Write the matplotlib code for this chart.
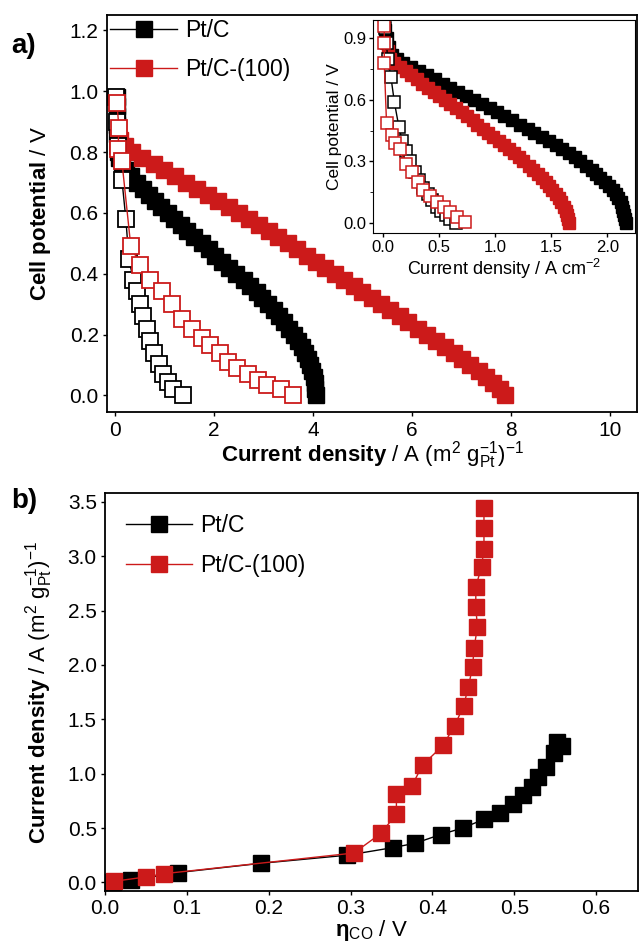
import matplotlib
matplotlib.use("Agg")
import matplotlib.pyplot as plt

plt.rcParams['font.family'] = ['Liberation Sans', 'DejaVu Sans']
plt.rcParams['mathtext.fontset'] = 'custom'
plt.rcParams['mathtext.rm'] = 'Liberation Sans'
plt.rcParams['mathtext.it'] = 'Liberation Sans:italic'
plt.rcParams['mathtext.bf'] = 'Liberation Sans:bold'

RED = '#cc1a1a'

# ---- panel a, mass-normalised current (A (m2 gPt-1)-1) ----
# Pt/C, filled (polarisation curve)
ptc_V = [0.98, 0.95, 0.92, 0.89, 0.86, 0.83, 0.80, 0.78, 0.76, 0.74, 0.72, 0.70,
         0.68, 0.66, 0.64, 0.62, 0.60, 0.58, 0.56, 0.54, 0.52, 0.50, 0.48, 0.46,
         0.44, 0.42, 0.40, 0.38, 0.36, 0.34, 0.32, 0.30, 0.28, 0.26, 0.24, 0.22,
         0.20, 0.18, 0.16, 0.14, 0.12, 0.10, 0.08, 0.06, 0.04, 0.02, 0.00]
ptc_j = [0.04, 0.04, 0.05, 0.05, 0.05, 0.06, 0.07, 0.09, 0.14, 0.22, 0.33, 0.44,
         0.56, 0.69, 0.81, 0.94, 1.07, 1.20, 1.33, 1.46, 1.60, 1.75, 1.89, 2.03,
         2.17, 2.31, 2.45, 2.60, 2.73, 2.86, 2.98, 3.10, 3.21, 3.32, 3.42, 3.52,
         3.61, 3.70, 3.78, 3.84, 3.90, 3.95, 3.99, 4.02, 4.04, 4.05, 4.06]

# Pt/C-(100), filled
p100_V = [0.88, 0.84, 0.82, 0.80, 0.78, 0.76, 0.74, 0.72, 0.70, 0.68, 0.66, 0.64,
          0.62, 0.60, 0.58, 0.56, 0.54, 0.52, 0.50, 0.48, 0.46, 0.44, 0.42, 0.40,
          0.38, 0.36, 0.34, 0.32, 0.30, 0.28, 0.26, 0.24, 0.22, 0.20, 0.18, 0.16,
          0.14, 0.12, 0.10, 0.08, 0.06, 0.04, 0.02, 0.00]
p100_j = [0.06, 0.10, 0.20, 0.35, 0.55, 0.78, 1.00, 1.22, 1.44, 1.66, 1.88, 2.08,
          2.30, 2.50, 2.70, 2.92, 3.12, 3.30, 3.50, 3.68, 3.88, 4.06, 4.25, 4.44,
          4.63, 4.82, 5.00, 5.19, 5.38, 5.56, 5.75, 5.93, 6.12, 6.30, 6.48, 6.66,
          6.84, 7.01, 7.18, 7.35, 7.50, 7.64, 7.77, 7.88]

# open symbols (second data set)
ptc_o_V = [0.98, 0.90, 0.82, 0.71, 0.58, 0.45, 0.38, 0.345, 0.30, 0.26, 0.22,
           0.18, 0.14, 0.105, 0.07, 0.045, 0.02, 0.00]
ptc_o_j = [0.03, 0.04, 0.06, 0.14, 0.22, 0.28, 0.37, 0.44, 0.51, 0.57, 0.65,
           0.71, 0.78, 0.88, 0.98, 1.08, 1.18, 1.38]
p100_o_V = [0.96, 0.88, 0.81, 0.77, 0.49, 0.43, 0.38, 0.345, 0.30, 0.25, 0.22,
            0.19, 0.165, 0.14, 0.11, 0.09, 0.07, 0.05, 0.035, 0.02, 0.00]
p100_o_j = [0.04, 0.08, 0.06, 0.14, 0.32, 0.51, 0.71, 0.95, 1.16, 1.36, 1.56,
            1.76, 1.93, 2.13, 2.29, 2.47, 2.68, 2.88, 3.08, 3.35, 3.60]

# ---- inset, geometric current (A cm-2) ----
in_ptc_V = [0.94, 0.90, 0.86, 0.82, 0.80, 0.78, 0.76, 0.74, 0.72, 0.70, 0.68, 0.66,
            0.64, 0.62, 0.60, 0.58, 0.56, 0.54, 0.52, 0.50, 0.48, 0.46, 0.44, 0.42,
            0.40, 0.38, 0.36, 0.34, 0.32, 0.30, 0.28, 0.26, 0.24, 0.22, 0.20, 0.18,
            0.16, 0.14, 0.12, 0.10, 0.08, 0.06, 0.04, 0.02, 0.00]
in_ptc_j = [0.02, 0.03, 0.05, 0.08, 0.12, 0.18, 0.25, 0.32, 0.39, 0.46, 0.53, 0.60,
            0.67, 0.74, 0.81, 0.88, 0.95, 1.02, 1.08, 1.15, 1.22, 1.29, 1.35, 1.42,
            1.48, 1.54, 1.60, 1.66, 1.71, 1.76, 1.81, 1.86, 1.90, 1.94, 1.98, 2.02,
            2.05, 2.08, 2.10, 2.12, 2.13, 2.14, 2.15, 2.16, 2.17]
in_p100_V = [0.84, 0.80, 0.78, 0.76, 0.74, 0.72, 0.70, 0.68, 0.66, 0.64, 0.62, 0.60,
             0.58, 0.56, 0.54, 0.52, 0.50, 0.48, 0.46, 0.44, 0.42, 0.40, 0.38, 0.36,
             0.34, 0.32, 0.30, 0.28, 0.26, 0.24, 0.22, 0.20, 0.18, 0.16, 0.14, 0.12,
             0.10, 0.08, 0.06, 0.04, 0.02, 0.00]
in_p100_j = [0.04, 0.06, 0.10, 0.15, 0.20, 0.25, 0.30, 0.35, 0.40, 0.45, 0.50, 0.55,
             0.60, 0.65, 0.70, 0.75, 0.80, 0.84, 0.89, 0.94, 0.98, 1.03, 1.08, 1.12,
             1.17, 1.21, 1.25, 1.30, 1.34, 1.38, 1.42, 1.45, 1.48, 1.51, 1.54, 1.57,
             1.59, 1.61, 1.63, 1.64, 1.65, 1.66]
in_ptc_o_V = [0.95, 0.88, 0.80, 0.71, 0.59, 0.47, 0.40, 0.35, 0.30, 0.25, 0.21,
              0.17, 0.14, 0.11, 0.08, 0.06, 0.04, 0.02, 0.00]
in_ptc_o_j = [0.02, 0.03, 0.04, 0.07, 0.10, 0.14, 0.17, 0.20, 0.24, 0.28, 0.32,
              0.36, 0.40, 0.44, 0.48, 0.52, 0.56, 0.60, 0.65]
in_p100_o_V = [0.96, 0.88, 0.78, 0.49, 0.43, 0.39, 0.36, 0.29, 0.25, 0.20, 0.16,
               0.13, 0.10, 0.08, 0.055, 0.03, 0.005]
in_p100_o_j = [0.01, 0.01, 0.01, 0.03, 0.08, 0.11, 0.15, 0.20, 0.26, 0.31, 0.36,
               0.42, 0.48, 0.54, 0.60, 0.66, 0.73]

# ---- panel b ----
b_ptc_eta = [0.01, 0.032, 0.089, 0.19, 0.296, 0.352, 0.379, 0.41, 0.437, 0.463,
             0.483, 0.499, 0.511, 0.522, 0.529, 0.539, 0.548, 0.558, 0.552]
b_ptc_j = [0.0, 0.02, 0.09, 0.175, 0.25, 0.32, 0.36, 0.44, 0.50, 0.58,
           0.64, 0.72, 0.80, 0.88, 0.97, 1.06, 1.19, 1.25, 1.29]
b_p100_eta = [0.011, 0.05, 0.072, 0.304, 0.337, 0.356, 0.356, 0.375, 0.388, 0.413,
              0.427, 0.438, 0.444, 0.449, 0.451, 0.455, 0.453, 0.453, 0.46, 0.463,
              0.463, 0.463]
b_p100_j = [0.01, 0.05, 0.08, 0.27, 0.45, 0.63, 0.81, 0.89, 1.08, 1.26,
            1.44, 1.62, 1.80, 1.98, 2.16, 2.35, 2.53, 2.72, 2.90, 3.07,
            3.26, 3.44]

fig = plt.figure(figsize=(6.41, 9.52), dpi=100)

# panel a
ax = fig.add_axes([0.167, 0.567, 0.827, 0.417])
ms = 11.5
ax.plot(ptc_j, ptc_V, '-s', color='black', lw=1, ms=ms, label='Pt/C')
ax.plot(p100_j, p100_V, '-s', color=RED, mec=RED, lw=1, ms=ms, label='Pt/C-(100)')
ax.plot(ptc_o_j, ptc_o_V, '-s', color='black', mfc='white', mew=1.3, lw=1, ms=ms)
ax.plot(p100_o_j, p100_o_V, '-s', color=RED, mfc='white', mew=1.3, lw=1, ms=ms)
ax.set_xlim(-0.16, 10.55)
ax.set_ylim(-0.055, 1.25)
ax.set_xticks([0, 2, 4, 6, 8, 10])
ax.set_yticks([0.0, 0.2, 0.4, 0.6, 0.8, 1.0, 1.2])
ax.tick_params(labelsize=15, length=3, width=1, pad=3)
for s in ax.spines.values():
    s.set_linewidth(1.3)
ax.set_ylabel(r'$\mathbf{Cell\ potential}$ / V', fontsize=16, labelpad=12)
ax.set_xlabel(r'$\mathbf{Current\ density}$ / A (m$^2$ g$_{\mathrm{Pt}}^{-1}$)$^{-1}$',
              fontsize=16, labelpad=0)
ax.legend(loc='upper left', fontsize=16.5, frameon=False, handlelength=2.9,
          handletextpad=0.35, borderaxespad=0.05, labelspacing=0.7,
          borderpad=0.1)
fig.text(0.018, 0.944, 'a)', fontsize=20, fontweight='bold')

# inset
ins = fig.add_axes([0.582, 0.755, 0.409, 0.224])
ins.patch.set_facecolor('white')
ms2 = 8.5
ins.plot(in_ptc_j, in_ptc_V, '-s', color='black', lw=1, ms=ms2)
ins.plot(in_p100_j, in_p100_V, '-s', color=RED, mec=RED, lw=1, ms=ms2)
ins.plot(in_ptc_o_j, in_ptc_o_V, '-s', color='black', mfc='white', mew=1.1, lw=1, ms=ms2)
ins.plot(in_p100_o_j, in_p100_o_V, '-s', color=RED, mfc='white', mew=1.1, lw=1, ms=ms2)
ins.set_xlim(-0.09, 2.25)
ins.set_ylim(-0.05, 0.99)
ins.set_xticks([0.0, 0.5, 1.0, 1.5, 2.0])
ins.set_yticks([0.0, 0.3, 0.6, 0.9])
ins.set_yticks([0.15, 0.45, 0.75], minor=True)
ins.tick_params(labelsize=12, length=3, width=1, pad=2)
ins.tick_params(which='minor', length=2)
ins.set_ylabel('Cell potential / V', fontsize=12.5, labelpad=1)
ins.set_xlabel(r'Current density / A cm$^{-2}$', fontsize=13, labelpad=1)

# panel b
bx = fig.add_axes([0.164, 0.064, 0.831, 0.418])
msb = 12
bx.plot(b_ptc_eta, b_ptc_j, '-s', color='black', lw=1, ms=msb, label='Pt/C')
bx.plot(b_p100_eta, b_p100_j, '-s', color=RED, mec=RED, lw=1, ms=msb, label='Pt/C-(100)')
bx.set_xlim(0.0, 0.651)
bx.set_ylim(-0.08, 3.58)
bx.set_xticks([0.0, 0.1, 0.2, 0.3, 0.4, 0.5, 0.6])
bx.set_yticks([0.0, 0.5, 1.0, 1.5, 2.0, 2.5, 3.0, 3.5])
bx.tick_params(labelsize=15, length=3, width=1, pad=3)
for s in bx.spines.values():
    s.set_linewidth(1.3)
bx.set_ylabel(r'$\mathbf{Current\ density}$ / A (m$^2$ g$_{\mathrm{Pt}}^{-1}$)$^{-1}$',
              fontsize=16, labelpad=9)
bx.set_xlabel(r'$\mathbf{\eta}_{\mathrm{CO}}$ / V', fontsize=16, labelpad=0)
bx.legend(loc='upper left', fontsize=16.5, frameon=False, handlelength=2.9,
          handletextpad=0.35, borderaxespad=0.3, labelspacing=0.75,
          borderpad=0.6)
fig.text(0.018, 0.466, 'b)', fontsize=20, fontweight='bold')

fig.savefig('out.png', dpi=100)
